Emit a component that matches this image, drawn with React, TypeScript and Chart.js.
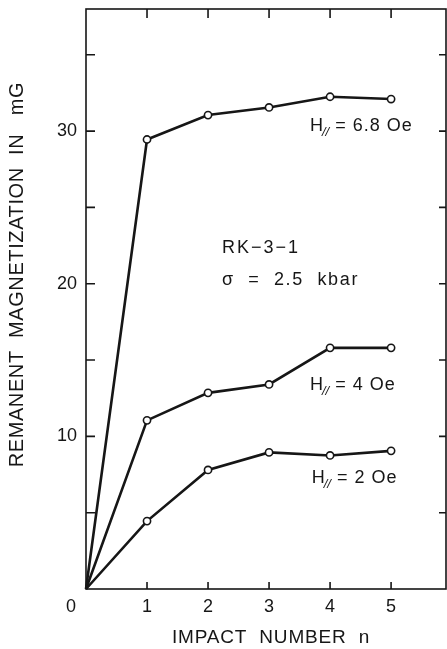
import React, { useEffect, useRef } from "react";
import { Chart, registerables } from "chart.js";

Chart.register(...registerables);

// ---- data ----
const impacts = [0, 1, 2, 3, 4, 5];
const seriesH68 = [0, 29.45, 31.05, 31.55, 32.25, 32.1];
const seriesH4 = [0, 11.05, 12.85, 13.4, 15.8, 15.8];
const seriesH2 = [0, 4.45, 7.8, 8.95, 8.75, 9.05];
const seriesNames = ["H// = 6.8 Oe", "H// = 4 Oe", "H// = 2 Oe"];
const fieldValues = ["6.8", "4", "2"];
const xTicks = [0, 1, 2, 3, 4, 5];
const yTicks = [0, 5, 10, 15, 20, 25, 30, 35];
const yLabelled = [10, 20, 30];
const sampleName = "RK\u22123\u22121";
const stressLabel = "\u03C3  =  2.5  kbar";
const xTitle = "IMPACT  NUMBER  n";
const yTitle = "REMANENT  MAGNETIZATION  IN   mG";

// annotation anchors (data units)
const fieldAnchorX = [3.67, 3.67, 3.7];
const fieldAnchorY = [30.0, 13.03, 6.94];
const sampleAnchor = { x: 2.23, y: 22.0 };
const stressAnchor = { x: 2.23, y: 19.9 };

const FONT = '"Liberation Sans", Arial, sans-serif';
const INK = "#161616";

const decorPlugin = {
  id: "decor",
  beforeDatasetsDraw(chart: any) {
    const { ctx, chartArea } = chart;
    const xs = chart.scales.x;
    const ys = chart.scales.y;
    const { left, right, top, bottom } = chartArea;
    ctx.save();
    ctx.strokeStyle = INK;
    ctx.lineWidth = 1.6;
    ctx.strokeRect(left, top, right - left, bottom - top);
    ctx.beginPath();
    xTicks.forEach((v) => {
      if (v === 0) return;
      const px = xs.getPixelForValue(v);
      ctx.moveTo(px, bottom);
      ctx.lineTo(px, bottom - 7);
      ctx.moveTo(px, top);
      ctx.lineTo(px, top + 9);
    });
    yTicks.forEach((v) => {
      if (v === 0) return;
      const py = ys.getPixelForValue(v);
      ctx.moveTo(left, py);
      ctx.lineTo(left + 9, py);
      ctx.moveTo(right, py);
      ctx.lineTo(right - 7, py);
    });
    ctx.stroke();
    ctx.restore();
  },
  afterDatasetsDraw(chart: any) {
    const { ctx, chartArea } = chart;
    const xs = chart.scales.x;
    const ys = chart.scales.y;
    ctx.save();
    ctx.fillStyle = INK;
    ctx.textBaseline = "alphabetic";
    ctx.textAlign = "left";
    fieldValues.forEach((val, i) => {
      const x = xs.getPixelForValue(fieldAnchorX[i]);
      const y = ys.getPixelForValue(fieldAnchorY[i]);
      ctx.font = `18px ${FONT}`;
      ctx.fillText("H", x, y);
      let w = ctx.measureText("H").width;
      ctx.font = `italic 13px ${FONT}`;
      ctx.fillText("//", x + w - 1, y + 5);
      w += ctx.measureText("//").width - 1;
      ctx.font = `18px ${FONT}`;
      (ctx as any).letterSpacing = "1px";
      ctx.fillText(" = " + val + " Oe", x + w, y);
      (ctx as any).letterSpacing = "0px";
    });
    ctx.font = `18px ${FONT}`;
    (ctx as any).letterSpacing = "2px";
    ctx.fillText(sampleName, xs.getPixelForValue(sampleAnchor.x), ys.getPixelForValue(sampleAnchor.y));
    (ctx as any).letterSpacing = "1.7px";
    ctx.fillText(stressLabel, xs.getPixelForValue(stressAnchor.x), ys.getPixelForValue(stressAnchor.y));

    // axis titles
    ctx.textAlign = "center";
    ctx.textBaseline = "middle";
    ctx.font = `19px ${FONT}`;
    (ctx as any).letterSpacing = "0.8px";
    ctx.fillText(xTitle, (chartArea.left + chartArea.right) / 2 + 5, chartArea.bottom + 49);
    ctx.save();
    ctx.translate(17, ys.getPixelForValue(20.6));
    ctx.rotate(-Math.PI / 2);
    ctx.font = `20px ${FONT}`;
    (ctx as any).letterSpacing = "0.6px";
    ctx.fillText(yTitle, 0, 0);
    ctx.restore();
    (ctx as any).letterSpacing = "0px";
    ctx.restore();
  },
};

function makeDataset(label: string, data: number[]) {
  return {
    label,
    data: impacts.map((x, i) => ({ x, y: data[i] })),
    borderColor: INK,
    borderWidth: 2.6,
    backgroundColor: "#ffffff",
    pointBackgroundColor: "#ffffff",
    pointBorderColor: INK,
    pointBorderWidth: 1.6,
    pointRadius: (c: any) => (c.dataIndex === 0 ? 0 : 3.6),
    tension: 0,
    fill: false,
    clip: false,
  };
}

export default function App() {
  const ref = useRef<HTMLCanvasElement | null>(null);
  useEffect(() => {
    if (!ref.current) return;
    const chart = new Chart(ref.current, {
      type: "line",
      data: {
        datasets: [
          makeDataset(seriesNames[0], seriesH68),
          makeDataset(seriesNames[1], seriesH4),
          makeDataset(seriesNames[2], seriesH2),
        ],
      },
      options: {
        animation: false,
        responsive: false,
        devicePixelRatio: 1,
        layout: { autoPadding: false, padding: { top: 9, right: 1, left: 0, bottom: 0 } },
        plugins: { legend: { display: false }, tooltip: { enabled: false } },
        scales: {
          x: {
            type: "linear",
            min: 0,
            max: 5.9,
            grid: { display: false, drawTicks: false, tickLength: 0 },
            border: { display: false },
            afterBuildTicks: (s: any) => {
              s.ticks = xTicks.map((v) => ({ value: v }));
            },
            afterFit: (s: any) => {
              s.height = 60;
              s.paddingLeft = 0;
              s.paddingRight = 0;
            },
            ticks: {
              color: INK,
              padding: 7,
              maxRotation: 0,
              autoSkip: false,
              font: { family: FONT, size: 18 },
              callback: (v: any) => (v === 0 ? "0      " : String(v)),
            },
          },
          y: {
            type: "linear",
            min: 0,
            max: 38,
            grid: { display: false, drawTicks: false, tickLength: 0 },
            border: { display: false },
            afterBuildTicks: (s: any) => {
              s.ticks = yTicks.map((v) => ({ value: v }));
            },
            afterFit: (s: any) => {
              s.width = 86;
              s.paddingTop = 0;
              s.paddingBottom = 0;
            },
            ticks: {
              color: INK,
              padding: 9,
              autoSkip: false,
              font: { family: FONT, size: 18 },
              callback: (v: any) => (yLabelled.includes(v) ? String(v) : ""),
            },
          },
        },
      },
      plugins: [decorPlugin],
    } as any);
    return () => chart.destroy();
  }, []);
  return (
    <div style={{ position: "absolute", left: 0, top: 0, width: 447, height: 649, background: "#fff" }}>
      <canvas ref={ref} width={447} height={649} style={{ display: "block" }} />
    </div>
  );
}
